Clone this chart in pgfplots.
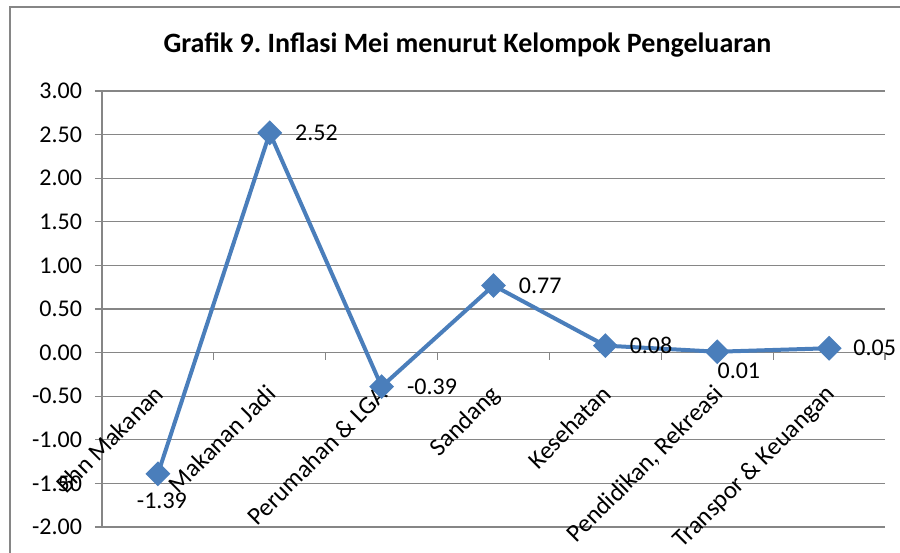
\documentclass[border=0pt]{standalone}
\usepackage{pgfplots}
\pgfplotsset{compat=1.18}
\usepackage{fontspec}
\setmainfont{Carlito}
\frenchspacing
\definecolor{lineblue}{HTML}{4A7EBB}
\definecolor{gridgray}{HTML}{868686}
\begin{document}
\begin{tikzpicture}
\useasboundingbox (0,0) rectangle (450pt,276pt);
\draw[gridgray, line width=0.6pt] (5pt,-10pt) rectangle (470pt,272.5pt);
\node[anchor=base, font=\fontsize{14}{16}\selectfont\bfseries] at (233.75pt,249.5pt) {Grafik 9. Inflasi Mei menurut Kelompok Pengeluaran};
\begin{axis}[
  at={(51pt,12.5pt)}, anchor=south west,
  scale only axis, width=391.5pt, height=218pt,
  axis x line*=middle, axis y line*=left,
  hide obscured x ticks=false, hide obscured y ticks=false,
  xmin=0.5, xmax=7.5, ymin=-2, ymax=3,
  xtick={1,2,3,4,5,6,7},
  xticklabels={Bhn Makanan,Makanan Jadi,Perumahan \& LGA,Sandang,Kesehatan,{Pendidikan, Rekreasi},Transpor \& Keuangan},
  xtick style={draw=none},
  extra x ticks={1.5,2.5,3.5,4.5,5.5,6.5,7.5},
  extra x tick labels={},
  extra x tick style={xtick style={draw=gridgray, line width=0.6pt}},
  ytick={-2,-1.5,-1,-0.5,0,0.5,1,1.5,2,2.5,3},
  yticklabels={-2.00,-1.50,-1.00,-0.50,0.00,0.50,1.00,1.50,2.00,2.50,3.00},
  tick align=outside, major tick length=3.5pt,
  ytick style={draw=gridgray, line width=0.6pt},
  ymajorgrids, grid style={gridgray, line width=0.6pt},
  axis line style={gridgray, line width=0.6pt},
  ticklabel style={font=\fontsize{12}{14}\selectfont},
  yticklabel style={xshift=-3pt},
  xticklabel style={rotate=45, anchor=north east, inner sep=0pt, yshift=-6.5pt, xshift=-10pt, font=\fontsize{12.5}{14}\selectfont},
  clip=false,
]
\addplot[color=lineblue, line width=2pt, mark=square*, mark size=3.4pt, mark options={rotate=45, solid, fill=lineblue}]
  coordinates {(1,-1.39) (2,2.52) (3,-0.39) (4,0.77) (5,0.08) (6,0.01) (7,0.05)};
\begin{scope}[every node/.style={font=\fontsize{12}{14}\selectfont, inner sep=0pt}]
\node[anchor=north, xshift=2pt, yshift=-9.5pt] at (axis cs:1,-1.39) {-1.39};
\node[anchor=west, xshift=12.5pt] at (axis cs:2,2.52) {2.52};
\node[anchor=west, xshift=12.5pt] at (axis cs:3,-0.39) {-0.39};
\node[anchor=west, xshift=12.5pt] at (axis cs:4,0.77) {0.77};
\node[anchor=west, xshift=12pt] at (axis cs:5,0.08) {0.08};
\node[anchor=north west, yshift=-5.5pt] at (axis cs:6,0.01) {0.01};
\node[anchor=west, xshift=12pt] at (axis cs:7,0.05) {0.05};
\end{scope}
\end{axis}
\end{tikzpicture}
\end{document}
